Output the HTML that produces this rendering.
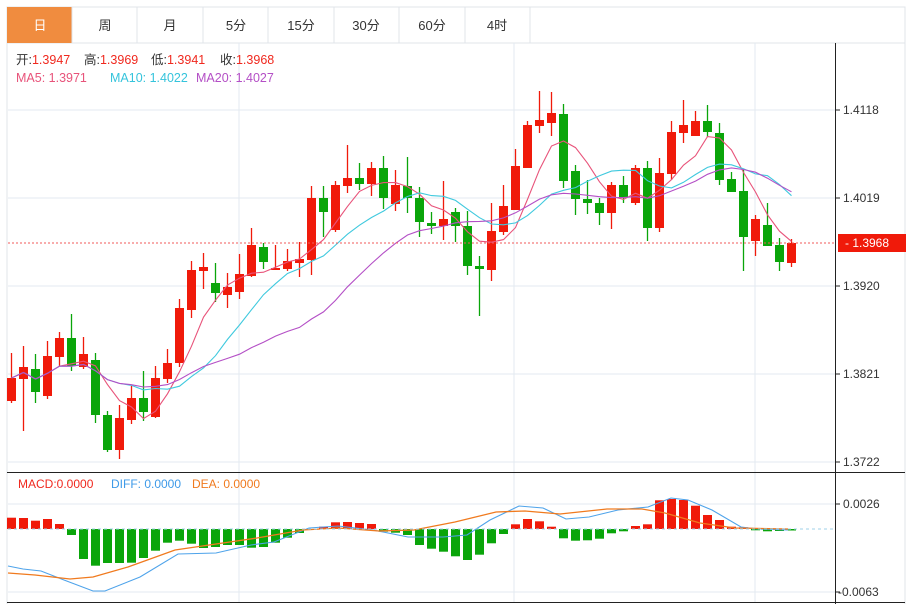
<!DOCTYPE html>
<html><head><meta charset="utf-8"><style>
html,body{margin:0;padding:0;background:#fff;width:912px;height:604px;overflow:hidden;font-family:"Liberation Sans","Noto Sans CJK SC",sans-serif}
</style></head><body>
<svg id="s" width="912" height="604" xmlns="http://www.w3.org/2000/svg" style="position:absolute;left:0;top:0">
<rect x="7" y="7" width="898" height="36" fill="#fff" stroke="#e0e4ea"/>
<rect x="7" y="7" width="65" height="36" fill="#f08c3f"/>
<g stroke="#e0e4ea"><line x1="72" y1="7" x2="72" y2="43"/><line x1="137" y1="7" x2="137" y2="43"/><line x1="203" y1="7" x2="203" y2="43"/><line x1="268" y1="7" x2="268" y2="43"/><line x1="334" y1="7" x2="334" y2="43"/><line x1="399" y1="7" x2="399" y2="43"/><line x1="465" y1="7" x2="465" y2="43"/><line x1="530" y1="7" x2="530" y2="43"/>
<line x1="7" y1="43" x2="7" y2="604"/><line x1="905" y1="43" x2="905" y2="604"/></g>
<g font-size="13" text-anchor="middle" fill="#333"><text x="40" y="30" fill="#fff">日</text><text x="105" y="30">周</text><text x="170" y="30">月</text><text x="236" y="30">5分</text><text x="301" y="30">15分</text><text x="366" y="30">30分</text><text x="432" y="30">60分</text><text x="497" y="30">4时</text></g>
<g stroke="#e3eaf1"><line x1="8" y1="110" x2="835" y2="110"/><line x1="8" y1="198" x2="835" y2="198"/><line x1="8" y1="286" x2="835" y2="286"/><line x1="8" y1="374" x2="835" y2="374"/><line x1="8" y1="462" x2="835" y2="462"/><line x1="8" y1="504" x2="835" y2="504"/><line x1="8" y1="592" x2="835" y2="592"/>
<line x1="239" y1="43" x2="239" y2="602"/><line x1="514" y1="43" x2="514" y2="602"/><line x1="755" y1="43" x2="755" y2="602"/></g>
<g id="c"></g>
<line x1="8" y1="243" x2="835" y2="243" stroke="#f25a5a" stroke-dasharray="2,2"/>
<line x1="8" y1="529" x2="835" y2="529" stroke="#9fd0e8" stroke-dasharray="3,3"/>
<g stroke="#222"><line x1="835.5" y1="43" x2="835.5" y2="604"/><line x1="7" y1="472.5" x2="905" y2="472.5"/><line x1="7" y1="602.5" x2="905" y2="602.5"/>
<line x1="835" y1="110" x2="840" y2="110"/><line x1="835" y1="198" x2="840" y2="198"/><line x1="835" y1="286" x2="840" y2="286"/><line x1="835" y1="374" x2="840" y2="374"/><line x1="835" y1="462" x2="840" y2="462"/><line x1="835" y1="504" x2="840" y2="504"/><line x1="835" y1="592" x2="840" y2="592"/></g>
<g font-size="12" fill="#333"><text x="843" y="114">1.4118</text><text x="843" y="202">1.4019</text><text x="843" y="290">1.3920</text><text x="843" y="378">1.3821</text><text x="843" y="466">1.3722</text><text x="843" y="508">0.0026</text><text x="838" y="596">-0.0063</text></g>
<rect x="838" y="234" width="68" height="18" fill="#f01a0a"/>
<text x="845" y="247" font-size="12" fill="#fff">- 1.3968</text>
<g font-size="12.5" fill="#333"><text x="16" y="64">开:<tspan fill="#f0281e">1.3947</tspan></text><text x="84" y="64">高:<tspan fill="#f0281e">1.3969</tspan></text><text x="151" y="64">低:<tspan fill="#f0281e">1.3941</tspan></text><text x="220" y="64">收:<tspan fill="#f0281e">1.3968</tspan></text>
<text x="16" y="82" fill="#e8537a">MA5: 1.3971</text><text x="110" y="82" fill="#35c4dc">MA10: 1.4022</text><text x="196" y="82" fill="#b44fc6">MA20: 1.4027</text></g>
<g font-size="12"><text x="18" y="488" fill="#f0281e">MACD:0.0000</text><text x="111" y="488" fill="#3e9ae8">DIFF: 0.0000</text><text x="192" y="488" fill="#f07a1e">DEA: 0.0000</text></g>
</svg>
<script>
var C=[
['r',378,401,353,403],['r',367,379,346,431],['g',369,392,354,403],['r',356,396,341,399],['r',338,357,332,366],['g',338,366,314,371],['r',354,367,337,369],['g',360,415,353,423],['g',415,450,411,452],['r',418,450,405,459],
['r',398,420,386,424],['g',398,412,371,421],['r',378,417,366,418],['r',363,379,349,383],['r',308,363,299,367],['r',270,310,261,318],['r',267,271,253,289],['g',283,293,263,302],['r',287,295,273,308],['r',274,292,254,299],
['r',245,276,228,277],['g',247,262,243,269],['r',268,270,245,269],['r',261,269,249,271],['r',259,263,242,277],['r',198,260,186,275],['g',198,212,186,237],['r',185,230,181,232],['r',178,186,145,193],['g',178,184,163,190],
['r',168,184,162,196],['g',168,198,156,209],['r',185,204,170,211],['g',186,198,157,213],['g',198,222,187,237],['g',223,226,212,234],['r',219,226,181,240],['g',212,226,208,242],['g',226,266,211,275],['g',266,269,256,316],
['r',231,270,203,281],['r',206,232,185,235],['r',166,210,149,210],['r',125,168,121,168],['r',120,126,91,133],['r',113,123,92,136],['g',114,181,104,188],['g',171,199,165,215],['g',199,203,180,214],['g',203,213,198,225],
['r',185,213,182,229],['g',185,197,176,203],['r',168,203,165,205],['g',168,228,161,241],['r',173,228,158,232],['r',132,174,121,180],['r',125,133,100,143],['r',121,136,111,136],['g',121,132,105,137],['g',133,180,123,185],
['g',179,192,172,192],['g',191,237,170,271],['r',219,241,215,256],['g',225,246,203,246],['g',245,262,238,271],['r',243,263,239,267]];
var M={0:517.7,1:518,2:520.7,3:519,4:524,5:535,6:559,7:565.7,8:563,9:563,10:562.7,11:558,12:550.7,13:542.7,14:540.7,15:543.7,16:548,17:547,18:545,19:545,20:547.7,21:547,22:542.7,23:537.7,24:533,25:529,26:526.7,27:522.3,28:522,29:523,30:524,31:531.7,32:532.7,33:535,34:545,35:548.7,36:551.7,37:556.3,38:560,39:554.7,40:543.3,41:534,42:524.3,43:519,44:521.3,45:526.7,46:538.3,47:540.7,48:540.3,49:538.7,50:533.3,51:531.3,52:526,53:524.3,54:500.3,55:499,56:500,57:505.7,58:515,59:520,60:526.7,61:527.3,62:530.3,63:531.3,64:531,65:530.5};
var h='',R='#f01a0a',G='#0aa50a';
function X(i){return 11.5+12*i;}
C.forEach(function(c,i){var x=X(i),col=c[0]=='r'?R:G;
h+='<line x1="'+x+'" y1="'+c[3]+'" x2="'+x+'" y2="'+c[4]+'" stroke="'+col+'" stroke-width="1.3"/>';
h+='<rect x="'+(x-4.5)+'" y="'+c[1]+'" width="9" height="'+Math.max(1.5,c[2]-c[1])+'" fill="'+col+'"/>';});
var cl=C.map(function(c){return c[0]=='r'?c[1]:c[2];});
function ma(n,col){var p=[];for(var i=0;i<cl.length;i++){var s=0,k=0;for(var j=Math.max(0,i-n+1);j<=i;j++){s+=cl[j];k++;}p.push(X(i)+','+(s/k).toFixed(1));}
h+='<polyline points="'+p.join(' ')+'" fill="none" stroke="'+col+'" stroke-width="1.1"/>';}
ma(5,'#e8537a');ma(10,'#3fc9de');ma(20,'#b44fc6');
for(var i=0;i<66;i++){var v=M[i];if(Math.abs(v-529)<0.6)continue;var col=v<529?R:G;var y=Math.min(v,529),hh=Math.abs(v-529);h+='<rect x="'+(X(i)-4.5)+'" y="'+y+'" width="9" height="'+hh+'" fill="'+col+'"/>';}
h+='<polyline points="8,566 23,569 41,571 64,580 93,591 105,591 140,577 178,554 216,553 251,545 274,542 309,528 338,526 373,530 408,537 443,537 467,535 490,520 519,506 543,508 566,519 589,517 618,510 648,507 671,498 688,500 712,510 741,527 758,529 788,530" fill="none" stroke="#4ea3ea" stroke-width="1.1"/>';
h+='<polyline points="8,573 35,575 70,579 93,577 128,567 175,550 216,544 257,538 303,530 338,528 379,531 414,530 455,522 496,512 525,511 560,514 607,509 642,509 665,513 700,523 735,528 788,529" fill="none" stroke="#f07a1e" stroke-width="1.3"/>';
document.getElementById('c').innerHTML=h;
</script>
</body></html>
